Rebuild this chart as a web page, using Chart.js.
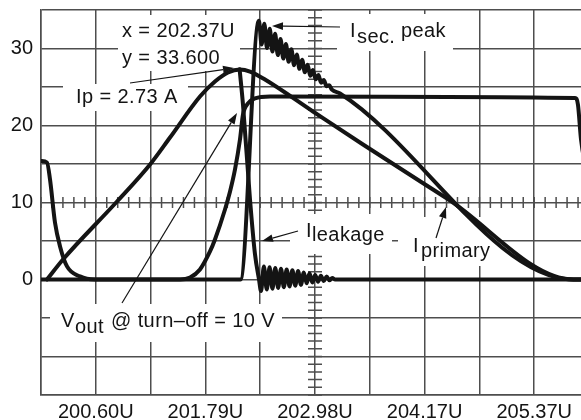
<!DOCTYPE html>
<html><head><meta charset="utf-8">
<script src="https://cdn.jsdelivr.net/npm/chart.js@4.4.0/dist/chart.umd.min.js"></script>
<style>
html,body{margin:0;padding:0;background:#fff;overflow:hidden;}
#wrap{width:581px;height:420px;overflow:hidden;position:relative;background:#fff;}
#c{position:absolute;left:0;top:0;}
</style></head><body>
<div id="wrap"><canvas id="c" width="600" height="420" style="width:600px;height:420px"></canvas></div>
<script>
// ---- axis / tick data ----
const xTickLabels = ['200.60U', '201.79U', '202.98U', '204.17U', '205.37U'];
const yTickValues = [0, 10, 20, 30];
const xMin = 200.0, xDiv = 0.596, xDivCount = 10;
const yMin = -15, yMax = 35, yStep = 5;

// ---- series (time in µs, value) ----
const primaryT = [200.065, 200.239, 200.827, 201.186, 201.403, 201.729, 201.892, 202.034, 202.164, 202.273, 202.436, 202.958, 203.502, 204.416, 205.790, 205.970];
const primaryV = [0, 2.60, 10.13, 14.94, 18.44, 23.77, 25.71, 26.88, 27.27, 27.01, 25.97, 21.82, 17.53, 10.52, 0, 0];

const secT = [200.000, 202.169, 202.370, 202.399, 202.429, 202.458, 202.488, 202.517, 202.546, 202.576, 202.605, 202.635, 202.664, 202.693, 202.723, 202.752, 202.782, 202.811, 202.840, 202.870, 202.899, 202.929, 202.958, 202.987, 203.017, 203.046, 203.076, 203.105, 203.134, 203.164, 203.252, 205.790, 205.970];
const secV = [0, 0, 33.60, 30.51, 33.22, 30.05, 32.56, 29.60, 31.90, 29.14, 31.23, 28.69, 30.57, 28.27, 29.91, 27.82, 29.22, 27.36, 28.55, 26.91, 27.88, 26.45, 27.22, 26.00, 26.56, 25.55, 25.90, 25.10, 25.22, 24.65, 24.16, 0, 0];

const leakT = [202.160, 202.197, 202.273, 202.327, 202.371, 202.393, 202.424, 202.455, 202.486, 202.517, 202.548, 202.579, 202.610, 202.641, 202.672, 202.703, 202.734, 202.765, 202.796, 202.827, 202.858, 202.889, 202.920, 202.951, 202.982, 203.013, 203.044, 203.075, 203.106, 203.137, 203.168, 203.199, 205.970];
const leakV = [27.30, 22.70, 10.40, 3.30, 0, -1.5, 1.7, -1.3, 1.6, -1.2, 1.5, -1.1, 1.4, -1.0, 1.3, -0.9, 1.2, -0.8, 1.1, -0.7, 0.9, -0.5, 0.8, -0.4, 0.6, -0.3, 0.5, -0.2, 0.4, -0.1, 0.2, 0, 0];

const voutT = [200.000, 200.065, 200.098, 200.152, 200.207, 200.283, 200.424, 200.587, 201.512, 201.621, 201.729, 201.838, 201.892, 202.001, 202.056, 202.110, 202.164, 202.197, 202.251, 202.327, 202.491, 205.808, 205.840, 205.873, 205.927];
const voutV = [15.4, 15.2, 13.0, 7.4, 4.3, 1.7, 0.4, 0, 0, 0.26, 1.30, 3.64, 5.19, 9.09, 11.43, 14.29, 18.18, 21.43, 22.86, 23.51, 23.77, 23.57, 22.7, 18.2, 14.3];

function pts(t, v) { return t.map((x, i) => ({ x: x, y: v[i] })); }

const INK = '#141414';
const GRID = '#4e4e4e';
const FONT = '"Liberation Sans", Arial, Helvetica, sans-serif';

// ---- annotation layout (pixels) ----
const boxes = [[118, 15, 240, 71], [63, 84, 188, 111], [337, 14, 453, 51], [290, 214, 392, 254], [398, 217, 502, 266], [50, 304, 282, 342]];
const labels = [
  ['x = 202.37U', 122, 37], ['y = 33.600', 122, 64], ['Ip = 2.73 A', 76, 103],
  ['I', 350, 37], ['sec.', 357, 43], ['peak', 401, 37],
  ['I', 306, 237], ['leakage', 312, 241],
  ['I', 413, 252], ['primary', 421, 257],
  ['V', 61, 327], ['out', 75, 333], ['@ turn\u2013off = 10 V', 111, 327]
];
const arrows = [[130, 83, 234, 68], [340, 27, 272, 26], [298, 231, 262, 241], [436, 238, 446, 207], [122, 303, 237, 113]];

const scopePlugin = {
  id: 'scope',
  beforeDatasetsDraw(chart) {
    const ctx = chart.ctx, xs = chart.scales.x, ys = chart.scales.y;
    ctx.save();
    ctx.strokeStyle = GRID; ctx.lineWidth = 1.5;
    const cx = xs.getPixelForValue(xMin + xDiv * xDivCount / 2);
    const cy = ys.getPixelForValue((yMin + yMax) / 2);
    ctx.beginPath();
    for (let i = 0; i <= xDivCount * 5; i++) {
      const px = xs.getPixelForValue(xMin + i * xDiv / 5);
      ctx.moveTo(px, cy - 5.5); ctx.lineTo(px, cy + 5.5);
    }
    for (let v = yMin; v <= yMax; v += yStep / 5) {
      const py = ys.getPixelForValue(v);
      ctx.moveTo(cx - 7, py); ctx.lineTo(cx + 7, py);
    }
    ctx.stroke();
    ctx.fillStyle = '#fff';
    boxes.forEach(b => ctx.fillRect(b[0], b[1], b[2] - b[0], b[3] - b[1]));
    ctx.restore();
  },
  afterDatasetsDraw(chart) {
    const ctx = chart.ctx;
    ctx.save();
    ctx.fillStyle = INK; ctx.strokeStyle = INK;
    ctx.font = '20px ' + FONT;
    try { ctx.letterSpacing = '0.4px'; } catch (e) {}
    ctx.textBaseline = 'alphabetic'; ctx.textAlign = 'left';
    labels.forEach(l => ctx.fillText(l[0], l[1], l[2]));
    ctx.lineWidth = 1.2;
    arrows.forEach(ar => {
      const [x1, y1, x2, y2] = ar;
      const ang = Math.atan2(y2 - y1, x2 - x1);
      const L = 11, W = 3.8;
      const bx = x2 - L * Math.cos(ang), by = y2 - L * Math.sin(ang);
      ctx.beginPath(); ctx.moveTo(x1, y1); ctx.lineTo(bx, by); ctx.stroke();
      ctx.beginPath();
      ctx.moveTo(x2, y2);
      ctx.lineTo(bx + W * Math.sin(ang), by - W * Math.cos(ang));
      ctx.lineTo(bx - W * Math.sin(ang), by + W * Math.cos(ang));
      ctx.closePath(); ctx.fill();
    });
    ctx.restore();
  }
};

const ds = (t, v) => ({
  data: pts(t, v), borderColor: INK, borderWidth: 4, pointRadius: 0,
  cubicInterpolationMode: 'monotone', borderJoinStyle: 'round', borderCapStyle: 'round', fill: false
});

new Chart(document.getElementById('c'), {
  type: 'line',
  data: { datasets: [ds(voutT, voutV), ds(secT, secV), ds(leakT, leakV), ds(primaryT, primaryV)] },
  options: {
    responsive: false, animation: false, devicePixelRatio: 1,
    layout: { padding: { top: 10, right: 11, left: 0, bottom: 0 } },
    plugins: { legend: { display: false }, tooltip: { enabled: false } },
    scales: {
      x: {
        type: 'linear', min: xMin, max: xMin + xDiv * xDivCount,
        afterBuildTicks(scale) {
          const t = [];
          for (let i = 0; i <= xDivCount; i++) t.push({ value: xMin + i * xDiv });
          scale.ticks = t;
        },
        afterFit(scale) { scale.height = 25; scale.paddingLeft = 0; scale.paddingRight = 0; },
        grid: { color: GRID, lineWidth: 1.5, drawTicks: false },
        border: { color: GRID, width: 1.5 },
        ticks: {
          autoSkip: false, maxRotation: 0, padding: 5, color: INK,
          font: { family: FONT, size: 20 },
          callback: (v, i) => (i % 2 === 1 ? xTickLabels[(i - 1) / 2] : '')
        }
      },
      y: {
        type: 'linear', min: yMin, max: yMax,
        afterFit(scale) { scale.width = 41; scale.paddingTop = 0; scale.paddingBottom = 0; },
        grid: { color: GRID, lineWidth: 1.5, drawTicks: false },
        border: { color: GRID, width: 1.5 },
        ticks: {
          stepSize: yStep, padding: 8, color: INK,
          font: { family: FONT, size: 20 },
          callback: v => (yTickValues.includes(v) ? String(v) : '')
        }
      }
    }
  },
  plugins: [scopePlugin]
});
</script>
</body></html>
